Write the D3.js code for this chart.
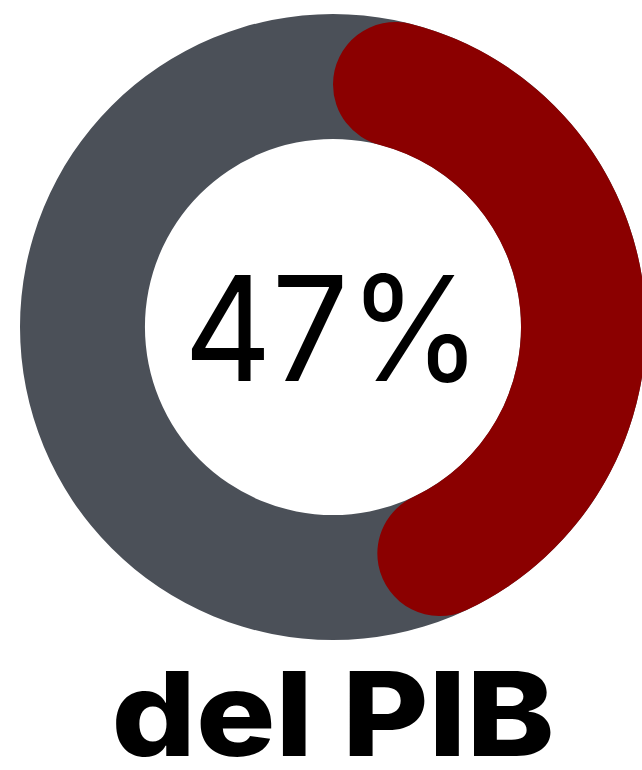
<!DOCTYPE html>
<html><head><meta charset="utf-8">
<script src="https://cdn.jsdelivr.net/npm/d3@7"></script>
<style>html,body{margin:0;padding:0;background:#fff;overflow:hidden}</style>
</head><body>
<svg id="c" width="642" height="770"></svg>
<script>
const labels = ["PIB", "resto"];
const values = [47, 53];
const centerText = ["47%"];
const captionText = ["del PIB"];

const svg = d3.select("#c");
const cx = 333, cy = 327, rOuter = 313, rInner = 188;
const g = svg.append("g").attr("transform", `translate(${cx},${cy})`);

const scale = d3.scaleLinear().domain([0, d3.sum(values)]).range([0, 2 * Math.PI]);

const bg = d3.arc().innerRadius(rInner).outerRadius(rOuter).startAngle(0).endAngle(2 * Math.PI);
g.append("path").attr("d", bg()).attr("fill", "#4b5058");

const fg = d3.arc().innerRadius(rInner).outerRadius(rOuter)
  .cornerRadius((rOuter - rInner) / 2)
  .startAngle(0).endAngle(scale(values[0]));
g.append("path").attr("d", fg()).attr("fill", "#8b0000");

g.append("text").text(centerText[0])
  .attr("x", 0).attr("y", 54)
  .attr("text-anchor", "middle")
  .attr("font-family", "Inter")
  .attr("font-weight", 400)
  .attr("font-size", 146)
  .attr("textLength", 298)
  .attr("lengthAdjust", "spacingAndGlyphs")
  .attr("fill", "#000");

svg.append("text").text(captionText[0])
  .attr("x", 333).attr("y", 756)
  .attr("text-anchor", "middle")
  .attr("font-family", "Inter")
  .attr("font-weight", 800)
  .attr("font-size", 117)
  .attr("textLength", 443)
  .attr("lengthAdjust", "spacingAndGlyphs")
  .attr("fill", "#000");
</script>
</body></html>
